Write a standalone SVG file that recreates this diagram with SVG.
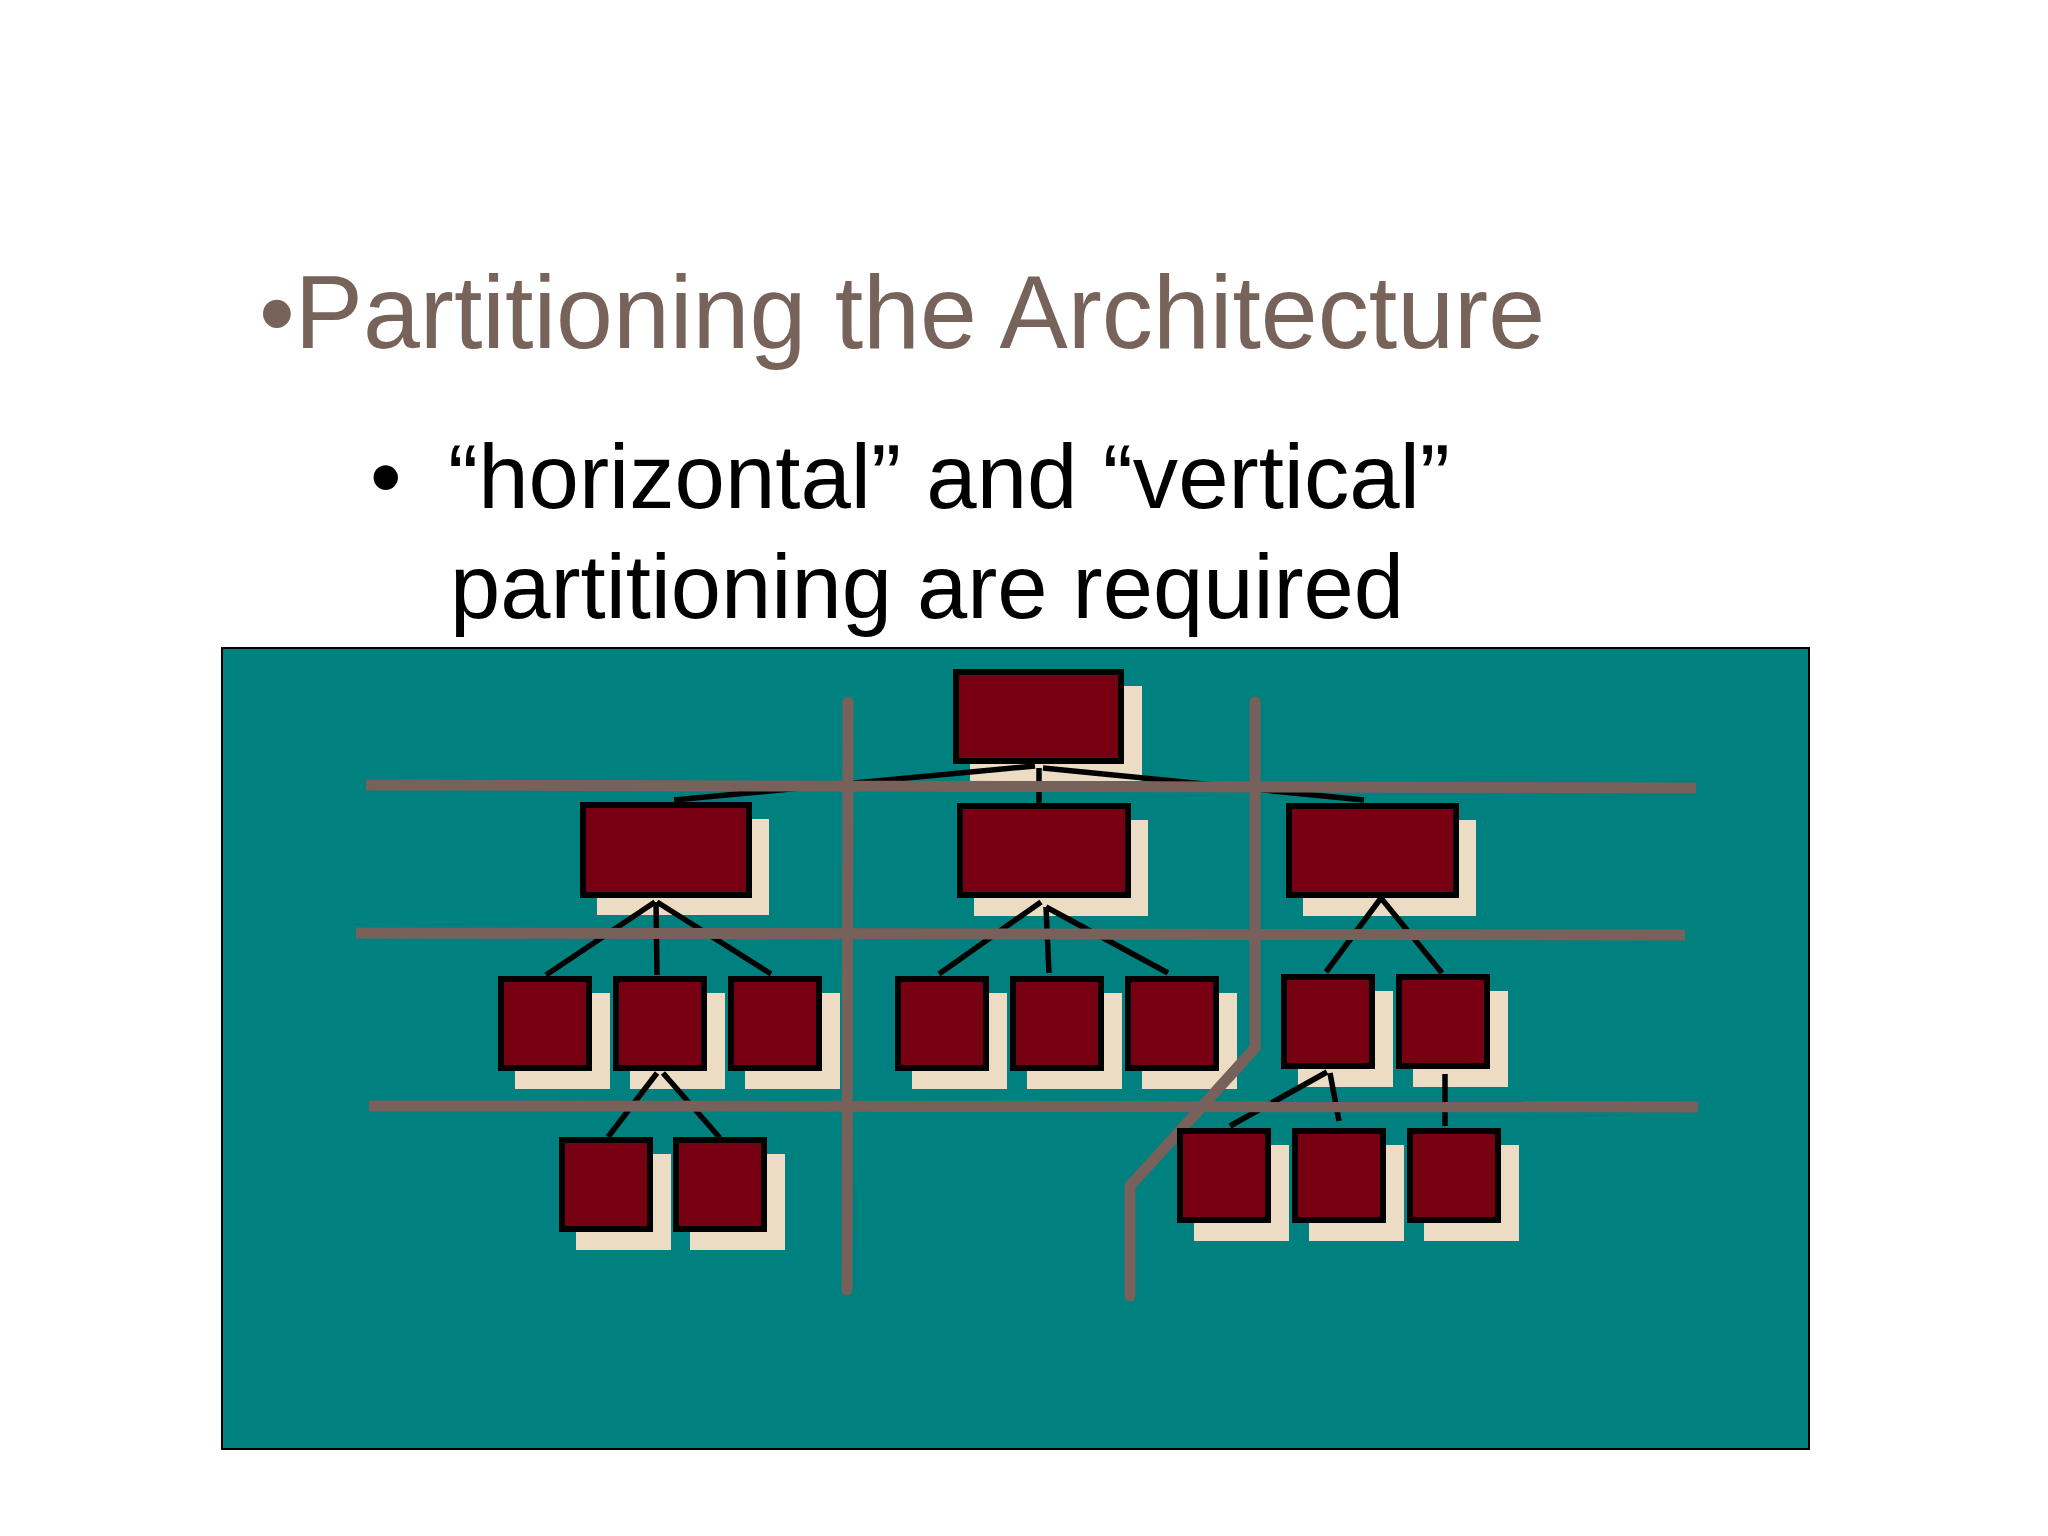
<svg xmlns="http://www.w3.org/2000/svg" width="2048" height="1536" viewBox="0 0 2048 1536">
<style>
.title{font-family:"Liberation Sans",Arial,sans-serif;font-size:104px;fill:#776359}
.sub{font-family:"Liberation Sans",Arial,sans-serif;font-size:90px;fill:#000}
.box{fill:#770012;stroke:#000;stroke-width:6}
.shadow{fill:#ebdcc3}
.conn{stroke:#000;stroke-width:5.5;fill:none}
.part{stroke:#77615a;stroke-width:11;fill:none;stroke-linejoin:round}
.vpart{stroke-linecap:round}
</style>
<rect width="2048" height="1536" fill="#fff"/>
<text class="title" x="259" y="348" textLength="1286" lengthAdjust="spacingAndGlyphs">•Partitioning the Architecture</text>
<text class="sub" x="370" y="508">•</text>
<text class="sub" x="448" y="508" textLength="1002" lengthAdjust="spacingAndGlyphs">“horizontal” and “vertical”</text>
<text class="sub" x="450" y="618" textLength="954" lengthAdjust="spacingAndGlyphs">partitioning are required</text>
<rect x="222" y="648" width="1587" height="801" fill="#018080" stroke="#000" stroke-width="2"/>
<g id="shadows">
<rect class="shadow" x="970" y="686" width="172" height="95"/>
<rect class="shadow" x="597" y="819" width="172" height="96"/>
<rect class="shadow" x="974" y="820" width="174" height="96"/>
<rect class="shadow" x="1303" y="820" width="173" height="96"/>
<rect class="shadow" x="515" y="993" width="95" height="96"/>
<rect class="shadow" x="630" y="993" width="95" height="96"/>
<rect class="shadow" x="745" y="993" width="95" height="96"/>
<rect class="shadow" x="912" y="993" width="95" height="96"/>
<rect class="shadow" x="1027" y="993" width="95" height="96"/>
<rect class="shadow" x="1142" y="993" width="95" height="96"/>
<rect class="shadow" x="1298" y="991" width="95" height="96"/>
<rect class="shadow" x="1413" y="991" width="95" height="96"/>
<rect class="shadow" x="576" y="1154" width="95" height="96"/>
<rect class="shadow" x="690" y="1154" width="95" height="96"/>
<rect class="shadow" x="1194" y="1145" width="95" height="96"/>
<rect class="shadow" x="1309" y="1145" width="95" height="96"/>
<rect class="shadow" x="1424" y="1145" width="95" height="96"/>
</g>
<g id="connectors">
<line class="conn" x1="1035" y1="766" x2="674" y2="800"/>
<line class="conn" x1="1039" y1="768" x2="1039" y2="803"/>
<line class="conn" x1="1043" y1="768" x2="1364" y2="800"/>
<line class="conn" x1="655" y1="902" x2="546" y2="975"/>
<line class="conn" x1="656" y1="902" x2="657" y2="975"/>
<line class="conn" x1="657" y1="902" x2="771" y2="974"/>
<line class="conn" x1="1041" y1="902" x2="939" y2="974"/>
<line class="conn" x1="1046" y1="907" x2="1049" y2="973"/>
<line class="conn" x1="1046" y1="907" x2="1168" y2="973"/>
<line class="conn" x1="1381" y1="898" x2="1326" y2="972"/>
<line class="conn" x1="1381" y1="898" x2="1442" y2="973"/>
<line class="conn" x1="657" y1="1073" x2="608" y2="1137"/>
<line class="conn" x1="663" y1="1073" x2="720" y2="1138"/>
<line class="conn" x1="1327" y1="1072" x2="1230" y2="1126"/>
<line class="conn" x1="1330" y1="1073" x2="1339" y2="1121"/>
<line class="conn" x1="1445" y1="1074" x2="1445" y2="1126"/>
</g>
<g id="partitions">
<line class="part" x1="366" y1="785" x2="1696" y2="788"/>
<line class="part" x1="356" y1="933" x2="1685" y2="935"/>
<line class="part" x1="369" y1="1106" x2="1698" y2="1107"/>
<line class="part vpart" x1="848" y1="702" x2="847" y2="1290"/>
<polyline class="part vpart" points="1255,702 1255,1048 1130,1186 1130,1296"/>
</g>
<g id="n-top"><rect class="box" x="956" y="672" width="165" height="89"/></g>
<g id="n-mid-left"><rect class="box" x="583" y="805" width="166" height="90"/></g>
<g id="n-mid-center"><rect class="box" x="960" y="806" width="168" height="89"/></g>
<g id="n-mid-right"><rect class="box" x="1289" y="806" width="167" height="89"/></g>
<g id="n-l1"><rect class="box" x="501" y="979" width="88" height="89"/></g>
<g id="n-l2"><rect class="box" x="616" y="979" width="88" height="89"/></g>
<g id="n-l3"><rect class="box" x="731" y="979" width="88" height="89"/></g>
<g id="n-c1"><rect class="box" x="898" y="979" width="88" height="89"/></g>
<g id="n-c2"><rect class="box" x="1013" y="979" width="88" height="89"/></g>
<g id="n-c3"><rect class="box" x="1128" y="979" width="88" height="89"/></g>
<g id="n-r1"><rect class="box" x="1284" y="977" width="88" height="89"/></g>
<g id="n-r2"><rect class="box" x="1399" y="977" width="88" height="89"/></g>
<g id="n-ll1"><rect class="box" x="562" y="1140" width="88" height="89"/></g>
<g id="n-ll2"><rect class="box" x="676" y="1140" width="88" height="89"/></g>
<g id="n-rr1"><rect class="box" x="1180" y="1131" width="88" height="89"/></g>
<g id="n-rr2"><rect class="box" x="1295" y="1131" width="88" height="89"/></g>
<g id="n-rr3"><rect class="box" x="1410" y="1131" width="88" height="89"/></g>
</svg>
